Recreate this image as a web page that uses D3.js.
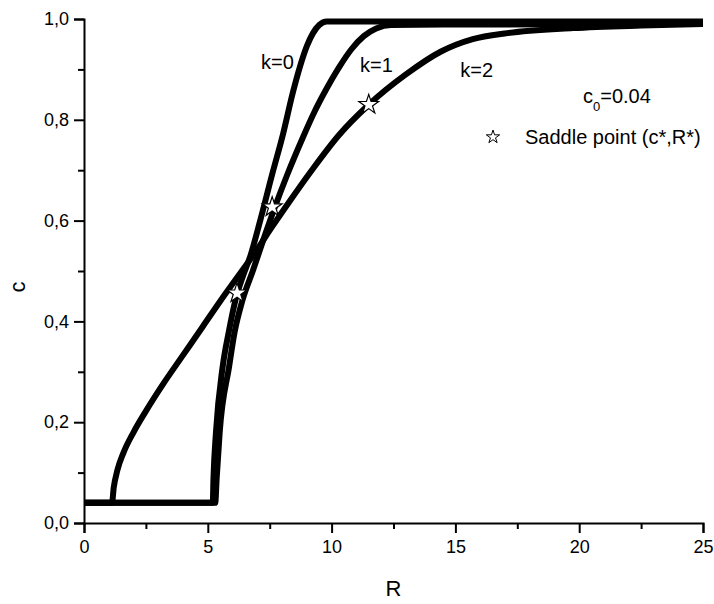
<!DOCTYPE html>
<html>
<head>
<meta charset="utf-8">
<script src="https://cdn.jsdelivr.net/npm/d3@7"></script>
<style>
  html, body { margin: 0; padding: 0; background: #fff; }
  svg { display: block; }
  text { font-family: "Liberation Sans", Arial, sans-serif; fill: #000; }
</style>
</head>
<body>
<script>
// ---------- data ----------
const xTicks = [0, 5, 10, 15, 20, 25];
const xMinorTicks = [2.5, 7.5, 12.5, 17.5, 22.5];
const yTicks = [0.0, 0.2, 0.4, 0.6, 0.8, 1.0];
const yMinorTicks = [0.1, 0.3, 0.5, 0.7, 0.9];

const k0R = [0, 5.2, 5.23, 5.33, 5.6, 5.85, 6.12, 6.42, 6.72, 7.1, 7.6, 8.04, 8.44, 8.72, 9.0, 9.25, 9.5, 9.8, 12, 25];
const k0C = [0.04, 0.04, 0.09, 0.18, 0.31, 0.38, 0.443, 0.49, 0.53, 0.597, 0.692, 0.772, 0.855, 0.905, 0.946, 0.972, 0.988, 0.995, 0.995, 0.995];

const k1R = [0, 5.3, 5.36, 5.48, 5.86, 6.08, 6.4, 6.83, 7.23, 7.71, 8.2, 8.84, 9.3, 9.8, 10.3, 10.8, 11.3, 11.8, 12.4, 14.8, 22.5, 25];
const k1C = [0.04, 0.04, 0.09, 0.18, 0.31, 0.378, 0.442, 0.502, 0.56, 0.627, 0.69, 0.765, 0.815, 0.862, 0.904, 0.94, 0.966, 0.981, 0.988, 0.989, 0.990, 0.992];

const k2R = [0, 1.13, 1.2, 1.35, 1.6, 2.0, 2.5, 3.2, 4.0, 4.8, 5.5, 6.2, 6.9, 7.6, 8.3, 9.2, 10.3, 11.5, 13.0, 14.4, 15.7, 17.1, 19.75, 22.5, 25];
const k2C = [0.04, 0.04, 0.07, 0.105, 0.14, 0.18, 0.222, 0.276, 0.333, 0.39, 0.44, 0.488, 0.536, 0.588, 0.638, 0.70, 0.77, 0.83, 0.89, 0.935, 0.96, 0.972, 0.982, 0.987, 0.990];

const saddleR = [6.18, 7.6, 11.5];
const saddleC = [0.456, 0.627, 0.83];

const seriesLabels = ["k=0", "k=1", "k=2"];
const labelR = [7.15, 11.15, 15.2];
const labelC = [0.9, 0.895, 0.885];

// ---------- layout ----------
const W = 714, H = 604;
const margin = { left: 84, right: 11, top: 19, bottom: 81 };

const svg = d3.select("body").append("svg").attr("width", W).attr("height", H);

const x = d3.scaleLinear().domain([0, 25]).range([margin.left, W - margin.right]);
const y = d3.scaleLinear().domain([0, 1]).range([H - margin.bottom, margin.top]);

// ---------- curves ----------
const line = d3.line()
  .x(d => x(d[0]))
  .y(d => y(d[1]))
  .curve(d3.curveMonotoneX);

const series = [
  d3.zip(k0R, k0C),
  d3.zip(k1R, k1C),
  d3.zip(k2R, k2C)
];

svg.append("g").selectAll("path").data(series).join("path")
  .attr("d", line)
  .attr("fill", "none")
  .attr("stroke", "#000")
  .attr("stroke-width", 6)
  .attr("stroke-linejoin", "round")
  .attr("stroke-linecap", "butt");

// ---------- axes ----------
const fmt = d => d3.format(".1f")(d).replace(".", ",");

const gx = svg.append("g").attr("transform", `translate(0,${y(0)})`);
gx.call(d3.axisBottom(x).tickValues(xTicks).tickSize(10).tickPadding(7).tickFormat(d3.format("d")));
gx.append("g").call(d3.axisBottom(x).tickValues(xMinorTicks).tickSize(6).tickFormat(""))
  .select(".domain").remove();

const gy = svg.append("g").attr("transform", `translate(${x(0)},0)`);
gy.call(d3.axisLeft(y).tickValues(yTicks).tickSize(10).tickPadding(5).tickFormat(fmt));
gy.append("g").call(d3.axisLeft(y).tickValues(yMinorTicks).tickSize(6).tickFormat(""))
  .select(".domain").remove();

svg.selectAll(".domain").attr("stroke", "#000").attr("stroke-width", 2);
svg.selectAll(".tick line").attr("stroke", "#000").attr("stroke-width", 2);
svg.selectAll(".tick text")
  .style("font-family", '"Liberation Sans", Arial, sans-serif')
  .style("font-size", "18px")
  .attr("fill", "#000");

// axis titles
svg.append("text")
  .attr("x", (x(0) + x(25)) / 2)
  .attr("y", 596)
  .attr("text-anchor", "middle")
  .style("font-size", "22px")
  .text("R");

svg.append("text")
  .attr("transform", "translate(25,287) rotate(-90)")
  .attr("text-anchor", "middle")
  .style("font-size", "22px")
  .text("c");

// ---------- saddle point markers ----------
const star = d3.symbol().type(d3.symbolStar);
svg.append("g").selectAll("path").data(d3.zip(saddleR, saddleC)).join("path")
  .attr("transform", d => `translate(${x(d[0])},${y(d[1])})`)
  .attr("d", star.size(120)())
  .attr("fill", "#fff")
  .attr("stroke", "#000")
  .attr("stroke-width", 1.2);

// ---------- annotations ----------
svg.append("g").selectAll("text").data(seriesLabels).join("text")
  .attr("x", (d, i) => x(labelR[i]))
  .attr("y", (d, i) => y(labelC[i]))
  .style("font-size", "20px")
  .text(d => d);

const c0 = svg.append("text").attr("x", 583).attr("y", 103).style("font-size", "20px");
c0.append("tspan").text("c");
c0.append("tspan").attr("dy", 8).style("font-size", "13px").text("0");
c0.append("tspan").attr("dy", -8).text("=0.04");

// legend
svg.append("path")
  .attr("transform", "translate(493,137)")
  .attr("d", d3.symbol().type(d3.symbolStar).size(55)())
  .attr("fill", "#fff")
  .attr("stroke", "#000")
  .attr("stroke-width", 1);
svg.append("text").attr("x", 525).attr("y", 144).style("font-size", "20px")
  .text("Saddle point (c*,R*)");
</script>
</body>
</html>
